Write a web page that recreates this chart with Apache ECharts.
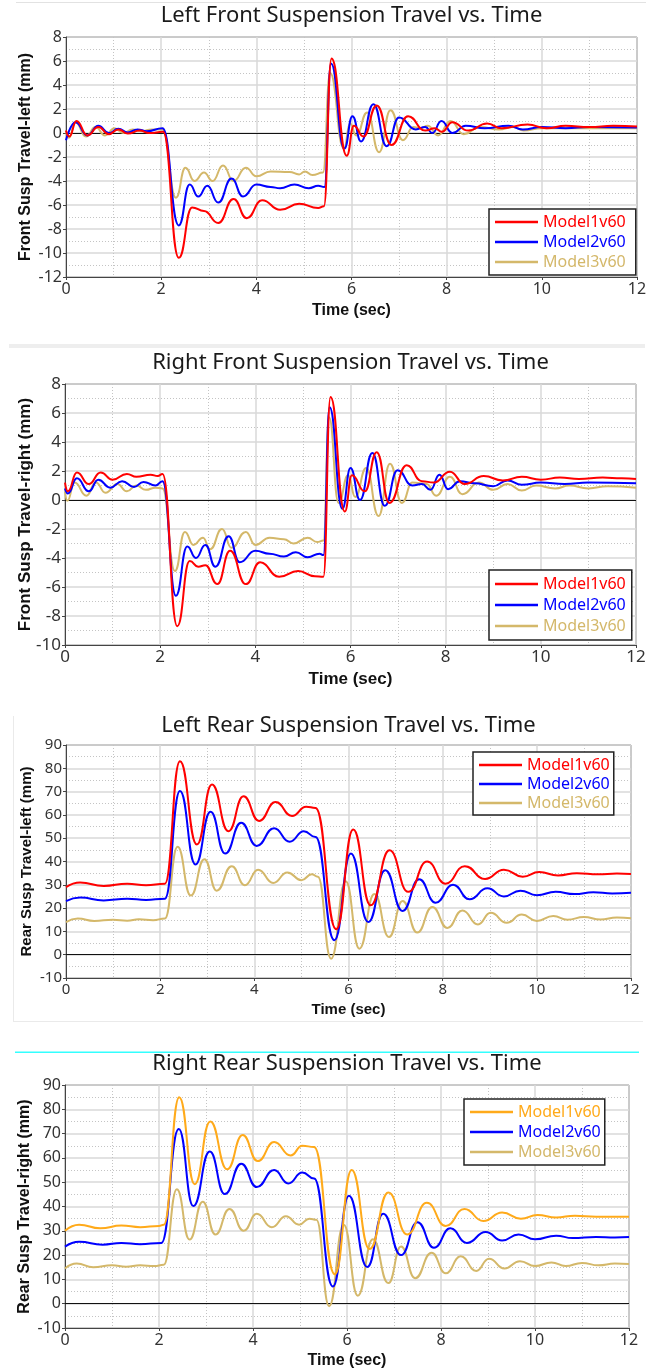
<!DOCTYPE html>
<html><head><meta charset="utf-8">
<script src="https://cdn.jsdelivr.net/npm/echarts@6/dist/echarts.min.js"></script>
<style>html,body{margin:0;padding:0;background:#fff}#c{width:656px;height:1370px}</style>
</head><body><div id="c"></div>
<script>
// ---------------- DATA ----------------
const SERIES_NAMES = ['Model1v60', 'Model2v60', 'Model3v60'];
const TITLES = [
  'Left Front Suspension Travel vs. Time',
  'Right Front Suspension Travel vs. Time',
  'Left Rear Suspension Travel vs. Time',
  'Right Rear Suspension Travel vs. Time'
];
const Y_NAMES = [
  'Front Susp Travel-left (mm)',
  'Front Susp Travel-right (mm)',
  'Rear Susp Travel-left (mm)',
  'Rear Susp Travel-right (mm)'
];
const X_NAME = 'Time (sec)';
const X_RANGE = [0, 12, 2];
const Y_RANGES = [[-12, 8, 2], [-10, 8, 2], [-10, 90, 10], [-10, 90, 10]];

// Left front: [time, travel]
const LF_M1 = [[0,0.2],[0.07,-0.3],[0.22,1.0],[0.45,-0.2],[0.68,0.5],[0.9,-0.1],[1.1,0.3],[1.3,-0.05],[1.55,0.2],[1.75,0.0],[2.04,0.1],[2.37,-10.4],[2.65,-6.2],[2.9,-6.5],[3.2,-7.5],[3.52,-5.5],[3.8,-7.1],[4.12,-5.6],[4.5,-6.4],[4.9,-5.9],[5.3,-6.25],[5.42,-6.1],[5.58,6.2],[5.9,-1.9],[6.05,0.6],[6.25,-0.3],[6.53,2.3],[6.84,-1.0],[7.19,1.4],[7.55,0.2],[7.75,0.4],[7.9,0.1],[8.12,0.9],[8.45,0.2],[8.85,0.8],[9.15,0.4],[9.7,0.7],[10.1,0.4],[10.5,0.6],[11,0.5],[11.5,0.6],[12,0.55]];
const LF_M2 = [[0,-0.6],[0.2,0.9],[0.45,-0.2],[0.68,0.6],[0.9,0.0],[1.1,0.35],[1.3,0.05],[1.5,0.3],[1.7,0.15],[2.03,0.4],[2.37,-7.7],[2.6,-4.3],[2.78,-5.3],[2.97,-4.4],[3.2,-5.8],[3.48,-3.8],[3.72,-5.3],[4.0,-4.3],[4.3,-4.5],[4.5,-4.6],[4.8,-4.3],[5.1,-4.6],[5.3,-4.4],[5.43,-4.5],[5.57,5.8],[5.85,-1.3],[6.02,1.4],[6.2,-0.7],[6.46,2.4],[6.74,-1.1],[7.0,1.3],[7.35,0.3],[7.55,0.5],[7.7,0.0],[7.89,1.0],[8.12,0.0],[8.4,0.6],[8.8,0.4],[9.3,0.6],[9.6,0.3],[10,0.5],[10.5,0.4],[11,0.5],[12,0.45]];
const LF_M3 = [[0,0.2],[0.06,-0.4],[0.2,0.9],[0.42,-0.3],[0.62,0.5],[0.82,-0.2],[1.02,0.4],[1.2,0.0],[1.4,0.3],[1.6,0.15],[1.8,0.3],[2.03,0.3],[2.31,-5.4],[2.51,-2.9],[2.7,-4.0],[2.9,-3.3],[3.08,-4.0],[3.3,-2.7],[3.52,-4.0],[3.78,-2.9],[4.0,-3.6],[4.3,-3.2],[4.7,-3.25],[4.9,-3.45],[5.02,-3.2],[5.18,-3.5],[5.4,-3.3],[5.55,5.0],[5.84,-1.3],[5.97,0.8],[6.1,-0.2],[6.33,1.7],[6.58,-1.6],[6.82,1.9],[7.08,-0.6],[7.3,0.5],[7.45,0.4],[7.6,0.6],[7.82,-0.2],[8.08,1.0],[8.36,-0.1],[8.7,0.5],[9.1,0.3],[9.4,0.5],[9.62,0.2],[10,0.4],[12,0.4]];

// Right front
const RF_M1 = [[0,1.2],[0.06,0.6],[0.25,1.9],[0.5,1.1],[0.75,1.9],[1.0,1.4],[1.3,1.8],[1.5,1.6],[1.8,1.75],[1.95,1.65],[2.05,1.8],[2.36,-8.7],[2.62,-4.2],[2.8,-4.6],[2.95,-4.5],[3.2,-5.8],[3.47,-3.5],[3.8,-5.8],[4.1,-4.3],[4.5,-5.3],[4.9,-4.9],[5.25,-5.25],[5.43,-5.3],[5.58,7.1],[5.88,-0.8],[6.03,1.7],[6.3,0.6],[6.55,3.3],[6.82,-0.2],[7.18,2.4],[7.5,1.3],[7.75,1.2],[8.09,1.95],[8.4,1.1],[8.8,1.65],[9.2,1.35],[9.6,1.6],[10,1.4],[10.4,1.55],[10.8,1.45],[11.3,1.55],[11.7,1.5],[12,1.45]];
const RF_M2 = [[0,0.8],[0.06,0.45],[0.25,1.5],[0.5,0.6],[0.7,1.4],[0.95,0.85],[1.2,1.3],[1.45,0.9],[1.65,1.25],[1.9,1.0],[2.05,1.3],[2.33,-6.6],[2.57,-3.2],[2.75,-4.0],[2.95,-3.1],[3.16,-4.6],[3.44,-2.5],[3.67,-4.3],[4.0,-3.5],[4.3,-3.7],[4.6,-3.9],[4.85,-3.6],[5.1,-3.95],[5.35,-3.7],[5.43,-3.8],[5.56,6.4],[5.83,-0.6],[6.0,2.2],[6.2,0.0],[6.46,3.25],[6.72,-0.4],[6.99,2.05],[7.3,1.0],[7.5,1.1],[7.68,0.7],[7.87,1.75],[8.05,0.75],[8.3,1.3],[8.6,1.15],[9.0,0.95],[9.3,1.35],[9.6,1.05],[10,1.2],[10.5,1.1],[11,1.2],[12,1.15]];
const RF_M3 = [[0,0.6],[0.05,-0.05],[0.2,1.2],[0.45,0.3],[0.65,1.2],[0.85,0.5],[1.1,1.1],[1.3,0.6],[1.5,1.0],[1.7,0.7],[1.9,0.85],[2.05,0.8],[2.31,-4.9],[2.52,-2.2],[2.7,-3.1],[2.9,-2.6],[3.05,-3.4],[3.3,-2.0],[3.5,-3.3],[3.8,-2.2],[4.0,-3.1],[4.3,-2.6],[4.6,-2.7],[4.8,-3.0],[5.1,-2.6],[5.3,-2.9],[5.43,-2.8],[5.55,5.7],[5.75,-0.2],[5.95,1.7],[6.1,0.2],[6.33,2.2],[6.59,-1.1],[6.83,2.5],[7.08,-0.2],[7.3,1.2],[7.6,1.1],[7.8,0.3],[8.09,1.6],[8.35,0.4],[8.7,1.2],[9.0,0.7],[9.3,1.1],[9.6,0.65],[9.9,1.0],[10.3,0.8],[10.6,1.0],[11,0.8],[11.4,0.95],[12,0.85]];

// Left rear
const LR_M1 = [[0,29],[0.3,31],[0.8,29.5],[1.3,30.5],[1.7,29.8],[2.1,30.5],[2.42,83],[2.78,47.3],[3.1,73],[3.45,53],[3.77,68],[4.1,57.4],[4.45,65.5],[4.8,59.5],[5.1,63.5],[5.3,63],[5.74,10.9],[6.1,53.7],[6.47,21.2],[6.87,44.8],[7.27,27],[7.67,40],[8.06,30.5],[8.47,38],[8.9,32.5],[9.3,36.5],[9.7,33.5],[10.05,35.5],[10.45,34],[10.85,35],[11.3,34.5],[11.7,34.8],[12,34.6]];
const LR_M2 = [[0,23],[0.3,24.5],[0.8,23.3],[1.3,24],[1.7,23.5],[2.1,24],[2.42,70.3],[2.75,38.7],[3.07,61.3],[3.38,43.4],[3.72,56.6],[4.05,46.7],[4.42,54.3],[4.75,48.5],[5.05,53],[5.3,50.5],[5.7,6.2],[6.05,43.4],[6.42,14],[6.78,36.2],[7.15,18.8],[7.5,32.4],[7.85,22.3],[8.22,30],[8.57,23.8],[8.95,28.5],[9.3,25],[9.65,27.5],[10.0,25.5],[10.4,27],[10.8,26],[11.2,26.8],[11.6,26.3],[12,26.6]];
const LR_M3 = [[0,14],[0.25,15.5],[0.6,14.5],[1.0,15],[1.3,14.6],[1.55,15.2],[1.85,14.8],[2.1,15.5],[2.37,46.3],[2.65,25.4],[2.94,41],[3.2,27.5],[3.52,38],[3.8,29.8],[4.08,36.5],[4.4,30.8],[4.7,35.3],[5.0,32],[5.22,34.5],[5.35,33.5],[5.63,-1.7],[5.94,31.5],[6.23,2.6],[6.55,26],[6.86,7.6],[7.15,23],[7.46,9.5],[7.78,20.5],[8.1,11.5],[8.42,19],[8.75,13],[9.02,18],[9.36,13.7],[9.68,17.2],[10.0,14.5],[10.35,16.6],[10.65,15],[11.0,16.2],[11.35,15.1],[11.7,16],[12,15.6]];

// Right rear
const RR_M1 = [[0,30],[0.3,32.5],[0.75,31],[1.2,32.2],[1.6,31.5],[2.0,32],[2.1,32.5],[2.43,85],[2.76,49.2],[3.09,75],[3.45,55.3],[3.78,69.4],[4.1,58.7],[4.45,66.5],[4.8,61],[5.05,65],[5.3,64.5],[5.74,12.1],[6.1,55],[6.48,22.5],[6.88,45.8],[7.28,28.5],[7.7,41.5],[8.1,32],[8.5,39],[8.9,34],[9.3,37.5],[9.7,35],[10.05,36.5],[10.45,35.5],[10.85,36.2],[11.3,35.8],[12,35.8]];
const RR_M2 = [[0,23.5],[0.3,25.5],[0.8,24.3],[1.2,25],[1.6,24.5],[2.05,25],[2.42,71.9],[2.73,40.2],[3.08,62.6],[3.4,45.1],[3.75,57.6],[4.08,48],[4.45,55],[4.75,49.5],[5.05,54],[5.3,51.5],[5.7,7.1],[6.04,44.4],[6.43,15.1],[6.77,37],[7.15,20],[7.5,33.5],[7.85,23],[8.2,31],[8.55,25],[8.95,29.5],[9.3,26],[9.65,28.5],[10.0,26.5],[10.45,28],[10.8,27],[11.3,27.5],[11.7,27.2],[12,27.4]];
const RR_M3 = [[0,14.5],[0.25,16.5],[0.6,15],[1.0,15.8],[1.3,15.2],[1.6,15.8],[1.9,15.5],[2.1,16],[2.38,47.1],[2.65,26.4],[2.93,42],[3.2,28.5],[3.5,39],[3.8,30],[4.08,37],[4.4,31.5],[4.7,36],[4.98,32.5],[5.2,35],[5.35,34.5],[5.62,-1],[5.93,32.5],[6.23,3.3],[6.55,26.5],[6.88,8.5],[7.15,23.5],[7.45,10.5],[7.8,21],[8.1,12.5],[8.42,19.5],[8.75,13.5],[9.02,18.5],[9.35,14.5],[9.68,17.5],[10.0,15.5],[10.35,17],[10.65,15.5],[11.0,16.8],[11.35,15.8],[11.7,16.5],[12,16.3]];

// ---------------- STYLE / LAYOUT ----------------
const RED = '#ff0000', BLUE = '#0000ff', TAN = '#d4b86a', ORANGE = '#ffaa1a';
const FONT = 'Noto Sans';
const BOLD = 'Liberation Sans';

const panels = [
  { grid:{left:66, top:37, width:571, height:240}, fs:16, tx:351.5, ty:16,
    lg:{left:489, top:209, padding:[5,10,5,6], gap:4}, yGap:32, xGap:26,
    data:[LF_M1, LF_M2, LF_M3], colors:[RED, BLUE, TAN] },
  { grid:{left:65, top:384, width:571, height:261}, fs:17, tx:350.5, ty:363,
    lg:{left:489, top:570, padding:[6,6,6,6], gap:5}, yGap:31.5, xGap:26,
    data:[RF_M1, RF_M2, RF_M3], colors:[RED, BLUE, TAN] },
  { grid:{left:66, top:745, width:565, height:233}, fs:15, tx:348.5, ty:726,
    lg:{left:473, top:752, padding:[5,4,4,6], gap:3}, yGap:31.5, xGap:24,
    data:[LR_M1, LR_M2, LR_M3], colors:[RED, BLUE, TAN] },
  { grid:{left:65, top:1085, width:564, height:246}, fs:16, tx:347, ty:1064,
    lg:{left:464, top:1099, padding:[5,4,5,6], gap:4}, yGap:32, xGap:25,
    data:[RR_M1, RR_M2, RR_M3], colors:[ORANGE, BLUE, TAN] }
];

const option = {
  animation: false,
  backgroundColor: '#ffffff',
  title: [], grid: [], xAxis: [], yAxis: [], legend: [], series: [],
  graphic: [
    { type:'rect', shape:{x:16, y:2, width:630, height:1}, style:{fill:'#e2e2e2'}, silent:true },
    { type:'rect', shape:{x:9, y:344, width:636, height:4}, style:{fill:'#eeeeee'}, silent:true },
    { type:'rect', shape:{x:13, y:716, width:1, height:306}, style:{fill:'#eaeaea'}, silent:true },
    { type:'rect', shape:{x:13, y:1021, width:630, height:1}, style:{fill:'#eaeaea'}, silent:true },
    { type:'rect', shape:{x:15, y:1051.5, width:624, height:1.5}, style:{fill:'#33ffff'}, silent:true }
  ]
};

panels.forEach((p, i) => {
  option.title.push({
    text: TITLES[i], left: p.tx, top: p.ty, textAlign:'center', textVerticalAlign:'middle', padding:0,
    textStyle:{ fontFamily:FONT, fontSize:22, fontWeight:'normal', color:'#1a1a1a' }
  });
  option.grid.push(Object.assign({ show:true, borderColor:'#444', borderWidth:1, backgroundColor:'#fff', containLabel:false }, p.grid));
  option.xAxis.push({
    type:'value', gridIndex:i, min:X_RANGE[0], max:X_RANGE[1], interval:X_RANGE[2],
    name: X_NAME, nameLocation:'middle', nameGap:p.xGap, nameMoveOverlap:false,
    nameTextStyle:{ fontFamily:BOLD, fontWeight:'bold', fontSize:p.fs, color:'#111' },
    axisLine:{ show:true, onZero:false, lineStyle:{color:'#444', width:1} },
    axisTick:{ show:true, length:3, lineStyle:{color:'#444'} },
    axisLabel:{ fontFamily:FONT, fontSize:p.fs, color:'#333', margin:4 },
    splitLine:{ show:true, lineStyle:{ color:'#d9d9d9', width:1.5 } },
    minorTick:{ show:false, splitNumber:2 },
    minorSplitLine:{ show:true, lineStyle:{ color:'#c4c4c4', width:1, type:[1,2] } }
  });
  const yr = Y_RANGES[i];
  option.yAxis.push({
    type:'value', gridIndex:i, min:yr[0], max:yr[1], interval:yr[2],
    name: Y_NAMES[i], nameLocation:'middle', nameGap:p.yGap, nameRotate:90, nameMoveOverlap:false,
    nameTextStyle:{ fontFamily:BOLD, fontWeight:'bold', fontSize:p.fs, color:'#111' },
    axisLine:{ show:true, lineStyle:{color:'#444', width:1} },
    axisTick:{ show:true, length:3, lineStyle:{color:'#444'} },
    axisLabel:{ fontFamily:FONT, fontSize:p.fs, color:'#333', margin:4 },
    splitLine:{ show:true, lineStyle:{ color:'#d9d9d9', width:1.5 } },
    minorTick:{ show:false, splitNumber:2 },
    minorSplitLine:{ show:true, lineStyle:{ color:'#c4c4c4', width:1, type:[1,2] } }
  });
  option.legend.push({
    left:p.lg.left, top:p.lg.top, orient:'vertical', selectedMode:false,
    padding:p.lg.padding, itemGap:p.lg.gap, itemWidth:43, itemHeight:2.5,
    backgroundColor:'#ffffff', borderColor:'#222', borderWidth:1.5, borderRadius:0,
    textStyle:{ fontFamily:FONT, fontSize:16 },
    data: SERIES_NAMES.map((n, k) => ({
      name:n, icon:'rect', itemStyle:{ color:p.colors[k] },
      textStyle:{ color:p.colors[k], fontFamily:FONT, fontSize:16 }
    })),
    itemStyle:{ borderWidth:0 }
  });
  p.data.forEach((d, k) => {
    const s = {
      type:'line', name:SERIES_NAMES[k], xAxisIndex:i, yAxisIndex:i, data:d,
      showSymbol:false, symbol:'none', smooth:0.5, smoothMonotone:'x',
      lineStyle:{ color:p.colors[k], width:2 }, itemStyle:{ color:p.colors[k] },
      z: 3 + (2 - k), silent:true
    };
    if (k === 0) {
      s.markLine = { silent:true, symbol:['none','none'], label:{show:false}, animation:false,
        lineStyle:{ color:'#111', width:1.2, type:'solid' }, data:[{ yAxis:0 }], z:1 };
    }
    option.series.push(s);
  });
});

const chart = echarts.init(document.getElementById('c'), null, { renderer:'canvas' });
chart.setOption(option);
</script>
</body></html>
